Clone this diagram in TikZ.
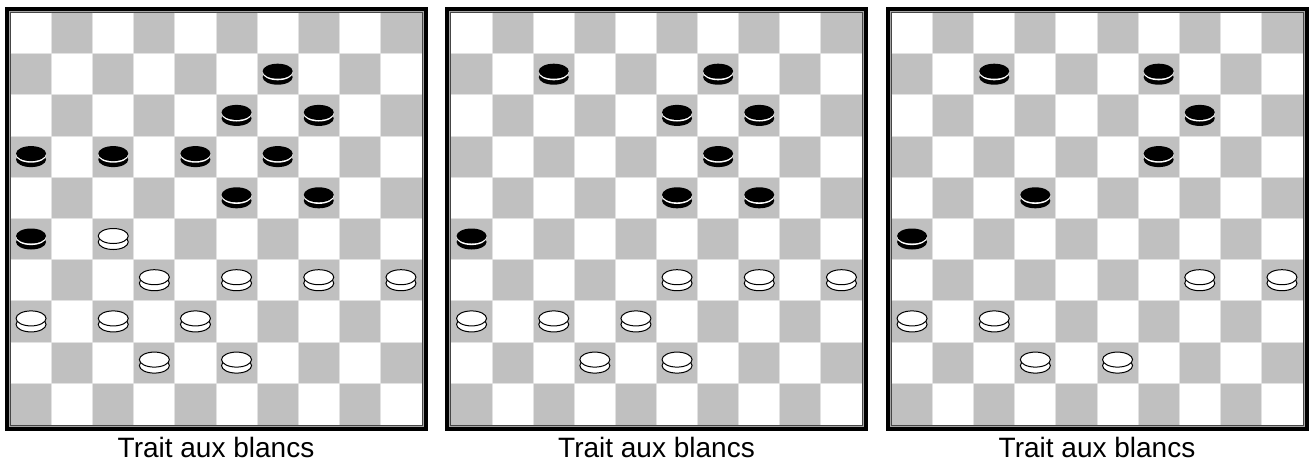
\documentclass[tikz,border=0pt]{standalone}
\usepackage{fontspec}
\setmainfont{Liberation Sans}
\definecolor{squaregrey}{RGB}{192,192,192}
\definecolor{gridgrey}{RGB}{226,226,226}
\definecolor{framegrey}{RGB}{165,165,165}
\definecolor{framedark}{RGB}{70,70,70}
\tikzset{
  cell/.style={fill=squaregrey},
  gridline/.style={draw=gridgrey, line width=1pt},
  caption/.style={font=\fontsize{28}{30}\selectfont, inner sep=0pt, anchor=base},
  disk/.style={x radius=15pt, y radius=7.5pt},
  darkpiece/.pic={
    \fill[black] (0,3) ellipse [disk];
    \fill[white] (0,-1.4) ellipse [disk];
    \fill[black] (0,-3) ellipse [disk];
  },
  lightpiece/.pic={
    \filldraw[fill=white, draw=black, line width=1pt] (0,3) ellipse [disk];
    \filldraw[fill=white, draw=black, line width=1pt] (0,-3) ellipse [disk];
  },
}
\begin{document}
\begin{tikzpicture}[x=1pt,y=-1pt]
  \useasboundingbox (0,0) rectangle (1314,461);
  % three boards
  \foreach \b in {0,1,2}{
    \begin{scope}[shift={(440.5*\b,0)}]
      \fill[black] (4.5,6.5) rectangle (427.5,430.5);
      \fill[framegrey] (8.5,10.5) rectangle (423.5,426.5);
      \fill[framedark] (9.5,11.5) rectangle (422.5,425.5);
      \fill[white] (10.5,12.5) rectangle (421.5,424.5);
      \foreach \r in {0,...,9}
        \foreach \k in {0,...,4}{
          \pgfmathsetmacro\c{2*\k+mod(\r+1,2)}
          \fill[cell] (10.5+41.1*\c,12.5+41.2*\r) rectangle ++(41.1,41.2);
        }
      \foreach \i in {1,...,9}{
        \draw[gridline] (10.5+41.1*\i,12.5) -- (10.5+41.1*\i,424.5);
        \draw[gridline] (10.5,12.5+41.2*\i) -- (421.5,12.5+41.2*\i);
      }
      \node[caption] (cap\b) at (216,457) {Trait aux blancs};
    \end{scope}
  }
  % pieces
  \begin{scope}
    \foreach \r/\c in {1/6,2/5,2/7,3/0,3/2,3/4,3/6,4/5,4/7,5/0}
      \pic at (31.05+41.1*\c,33+41.2*\r) {darkpiece};
    \foreach \r/\c in {5/2,6/3,6/5,6/7,6/9,7/0,7/2,7/4,8/3,8/5}
      \pic at (31.05+41.1*\c,33+41.2*\r) {lightpiece};
  \end{scope}
  \begin{scope}[shift={(440.5,0)}]
    \foreach \r/\c in {1/2,1/6,2/5,2/7,3/6,4/5,4/7,5/0}
      \pic at (31.05+41.1*\c,33+41.2*\r) {darkpiece};
    \foreach \r/\c in {6/5,6/7,6/9,7/0,7/2,7/4,8/3,8/5}
      \pic at (31.05+41.1*\c,33+41.2*\r) {lightpiece};
  \end{scope}
  \begin{scope}[shift={(881,0)}]
    \foreach \r/\c in {1/2,1/6,2/7,3/6,4/3,5/0}
      \pic at (31.05+41.1*\c,33+41.2*\r) {darkpiece};
    \foreach \r/\c in {6/7,6/9,7/0,7/2,8/3,8/5}
      \pic at (31.05+41.1*\c,33+41.2*\r) {lightpiece};
  \end{scope}
\end{tikzpicture}
\end{document}
